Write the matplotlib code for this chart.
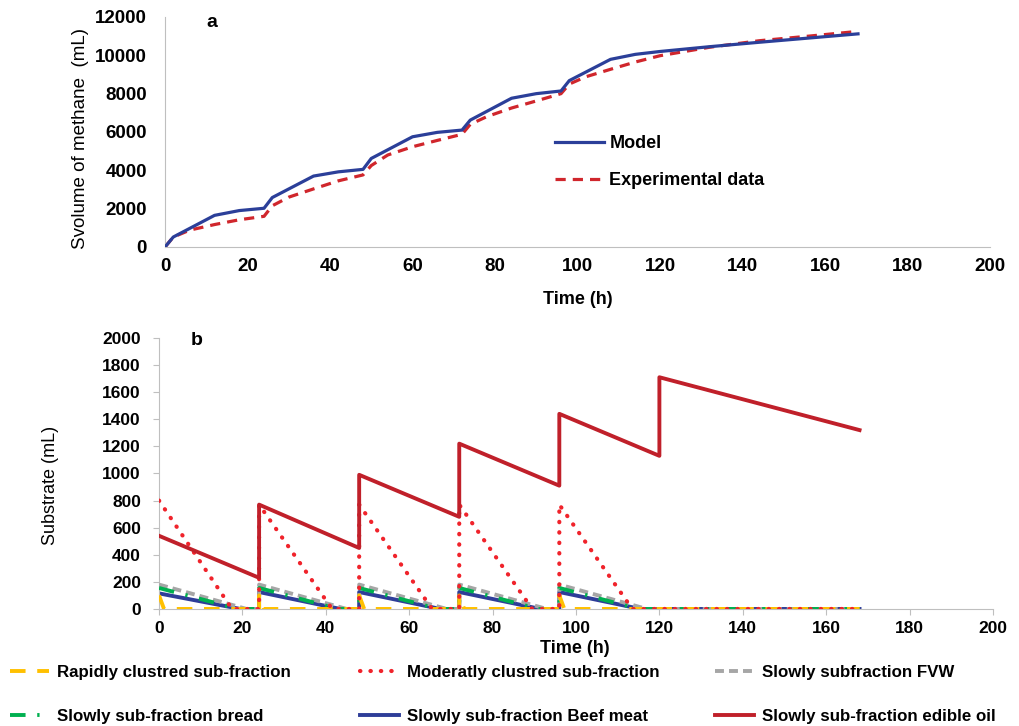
import matplotlib
matplotlib.use("Agg")
import matplotlib.pyplot as plt
from matplotlib import font_manager

plt.rcParams["font.family"] = ["Liberation Sans", "DejaVu Sans"]

# ---- panel a: cumulative methane ----
t_model = [0, 2, 12, 18, 24, 26, 36, 42, 48, 50, 60, 66, 72, 74, 84, 90, 96, 98,
           108, 114, 120, 132, 144, 156, 168]
model = [0, 520, 1650, 1900, 2020, 2580, 3700, 3920, 4050, 4620, 5750, 5980, 6100,
         6620, 7760, 8000, 8140, 8680, 9790, 10050, 10200, 10450, 10680, 10900, 11120]

t_exp = [0, 2, 6, 12, 18, 24, 26, 30, 36, 42, 48, 50, 54, 60, 66, 72, 74, 78, 84,
         90, 96, 98, 102, 108, 114, 120, 132, 144, 156, 168]
exp = [0, 520, 880, 1170, 1420, 1600, 2150, 2600, 3030, 3450, 3760, 4250, 4800,
       5230, 5560, 5880, 6400, 6800, 7250, 7620, 8000, 8500, 8880, 9270, 9650,
       9980, 10420, 10760, 11000, 11250]

# ---- panel b: substrate fractions ----
t_rapid = [0, 1.2, 24, 24, 25.2, 48, 48, 49.2, 72, 72, 73.2, 96, 96, 97.2, 168]
rapid = [100, 0, 0, 100, 0, 0, 100, 0, 0, 100, 0, 0, 100, 0, 0]

t_mod = [0, 17.5, 24, 24, 41.5, 48, 48, 65.5, 72, 72, 89.5, 96, 96, 113.5, 168]
mod = [800, 0, 0, 770, 0, 0, 770, 0, 0, 770, 0, 0, 770, 0, 0]

t_fvw = [0, 21, 24, 24, 45, 48, 48, 69, 72, 72, 93, 96, 96, 117, 168]
fvw = [180, 0, 0, 180, 0, 0, 180, 0, 0, 180, 0, 0, 180, 0, 0]

t_bread = [0, 19, 24, 24, 43, 48, 48, 67, 72, 72, 91, 96, 96, 115, 168]
bread = [155, 0, 0, 155, 0, 0, 155, 0, 0, 155, 0, 0, 155, 0, 0]

t_beef = [0, 19.5, 24, 24, 43.5, 48, 48, 67.5, 72, 72, 91.5, 96, 96, 115.5, 168]
beef = [115, 0, 0, 125, 0, 0, 125, 0, 0, 125, 0, 0, 125, 0, 0]

t_oil = [0, 24, 24, 48, 48, 72, 72, 96, 96, 120, 120, 168]
oil = [540, 230, 770, 450, 990, 680, 1220, 910, 1440, 1130, 1710, 1320]

labels_b = ["Rapidly clustred sub-fraction", "Moderatly clustred sub-fraction",
            "Slowly subfraction FVW", "Slowly sub-fraction bread",
            "Slowly sub-fraction Beef meat", "Slowly sub-fraction edible oil"]

AX_GRAY = "#BFBFBF"
installed = {f.name for f in font_manager.fontManager.ttflist}
if "Liberation Sans Narrow" in installed:
    leg_font = dict(family="Liberation Sans Narrow", weight="bold", size=13)
else:
    leg_font = dict(family="Liberation Sans", weight="bold", size=12.2)

fig = plt.figure(figsize=(10.2, 7.26), dpi=100)

# --- (a) ---
ax = fig.add_axes([0.1618, 0.6598, 0.8088, 0.3168])
ax.plot(t_model, model, color="#2B3F99", lw=2.3, label="Model", zorder=3)
ax.plot(t_exp, exp, color="#D0262C", lw=2.3, ls=(0, (3.2, 2.2)),
        label="Experimental data", zorder=2)
ax.set_xlim(0, 200)
ax.set_ylim(0, 12000)
ax.set_xticks(range(0, 201, 20))
ax.set_yticks(range(0, 12001, 2000))
for s in ("top", "right"):
    ax.spines[s].set_visible(False)
for s in ("left", "bottom"):
    ax.spines[s].set_color(AX_GRAY)
    ax.spines[s].set_linewidth(0.8)
ax.tick_params(axis="both", length=0, labelsize=13.5)
ax.tick_params(axis="y", pad=13)
ax.tick_params(axis="x", pad=8)
for lab in ax.get_xticklabels() + ax.get_yticklabels():
    lab.set_fontweight("bold")
ax.set_xlabel("Time (h)", fontsize=13, fontweight="bold")
ax.xaxis.set_label_coords(0.5, -0.19)
ax.set_ylabel("Svolume of methane  (mL)", fontsize=13.5)
ax.yaxis.set_label_coords(-0.092, 0.47)
ax.text(0.057, 0.978, "a", transform=ax.transAxes, fontsize=14,
        fontweight="bold", ha="center", va="center")
ax.legend(loc="upper left", bbox_to_anchor=(0.473, 0.485), frameon=False,
          borderpad=0, borderaxespad=0, handlelength=2.7, handletextpad=0.3,
          labelspacing=1.1, prop=dict(weight="bold", size=13))

# --- (b) ---
bx = fig.add_axes([0.1559, 0.1612, 0.8176, 0.3733])
h_beef, = bx.plot(t_beef, beef, color="#2E3D98", lw=2.8, zorder=2)
h_fvw, = bx.plot(t_fvw, fvw, color="#A6A6A6", lw=2.8, ls=(0, (2.3, 1.3)), zorder=3)
h_bread, = bx.plot(t_bread, bread, color="#00B050", lw=2.8,
                   ls=(0, (4, 3, 0.6, 3)), zorder=4)
h_rapid, = bx.plot(t_rapid, rapid, color="#FFC000", lw=2.8, ls=(0, (4, 3)), zorder=5)
h_mod, = bx.plot(t_mod, mod, color="#F0232B", lw=3.0, ls=(0, (0.1, 2.4)),
                 dash_capstyle="round", zorder=6)
h_oil, = bx.plot(t_oil, oil, color="#C0202A", lw=2.8, zorder=7)
bx.set_xlim(0, 200)
bx.set_ylim(0, 2000)
bx.set_xticks(range(0, 201, 20))
bx.set_yticks(range(0, 2001, 200))
for s in ("top", "right"):
    bx.spines[s].set_visible(False)
for s in ("left", "bottom"):
    bx.spines[s].set_color(AX_GRAY)
    bx.spines[s].set_linewidth(0.8)
bx.tick_params(axis="both", length=4, color=AX_GRAY, labelsize=12.5)
bx.tick_params(axis="y", pad=9)
bx.tick_params(axis="x", pad=5)
for lab in bx.get_xticklabels() + bx.get_yticklabels():
    lab.set_fontweight("bold")
bx.set_xlabel("Time (h)", fontsize=13, fontweight="bold")
bx.xaxis.set_label_coords(0.499, -0.115)
bx.set_ylabel("Substrate (mL)", fontsize=13)
bx.yaxis.set_label_coords(-0.12, 0.454)
bx.text(0.0456, 0.99, "b", transform=bx.transAxes, fontsize=14,
        fontweight="bold", ha="center", va="center")

# legend below panel b: three columns
handles_b = [h_rapid, h_mod, h_fvw, h_bread, h_beef, h_oil]
cols_x = [10 / 1020, 360 / 1020, 715 / 1020]
for i, x0 in enumerate(cols_x):
    hs = [handles_b[i], handles_b[i + 3]]
    ls = [labels_b[i], labels_b[i + 3]]
    fig.legend(hs, ls, loc="upper left", bbox_to_anchor=(x0, 1 - 665 / 726),
               frameon=False, borderpad=0, borderaxespad=0, handlelength=2.3,
               handletextpad=0.5, labelspacing=1.7, prop=leg_font)

fig.savefig("out.png", dpi=100)
